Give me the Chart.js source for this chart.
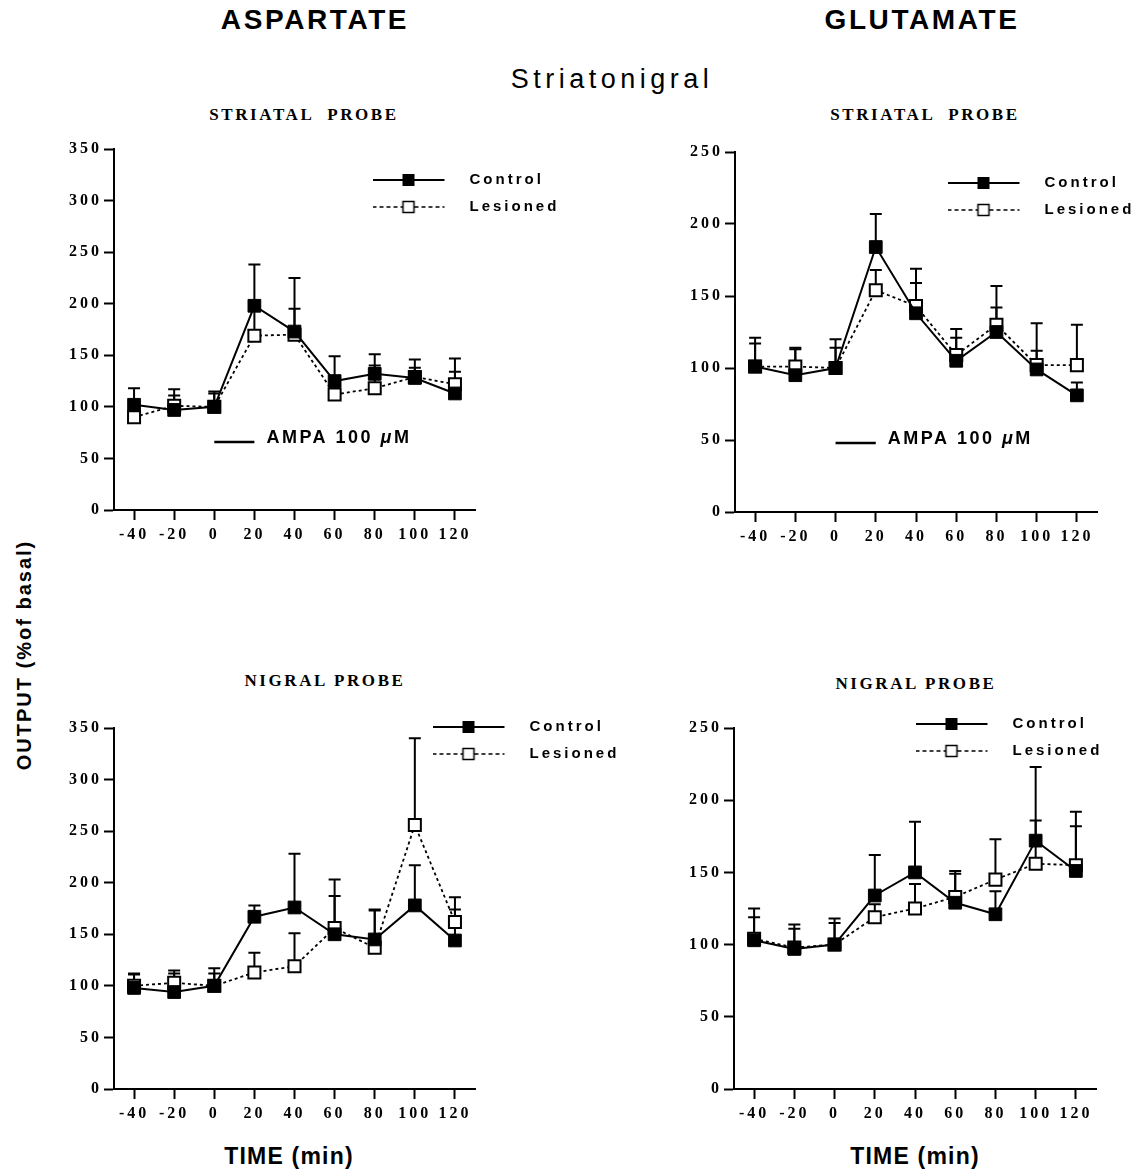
<!DOCTYPE html>
<html>
<head>
<meta charset="utf-8">
<script src="https://cdn.jsdelivr.net/npm/chart.js@4.4.1/dist/chart.umd.min.js"></script>
<style>
  body { margin: 0; background: #fff; }
  #page { position: relative; width: 1138px; height: 1171px; overflow: hidden; background: #fff; }
  canvas { position: absolute; }
  .t { position: absolute; white-space: pre; line-height: 1; color: #000; transform: translateX(-50%); }
  .sans { font-family: 'Liberation Sans', Arial, sans-serif; font-weight: bold; }
  .serif { font-family: 'Liberation Serif', 'Times New Roman', serif; font-weight: bold; font-size: 17px; letter-spacing: 2.6px; }
</style>
</head>
<body>
<div id="page">
  <div class="t sans" style="left:315px;top:6px;font-size:28px;letter-spacing:2.6px">ASPARTATE</div>
  <div class="t sans" style="left:922px;top:6px;font-size:28px;letter-spacing:2.6px">GLUTAMATE</div>
  <div class="t sans" style="left:612px;top:66px;font-size:27px;font-weight:normal;letter-spacing:4.5px">Striatonigral</div>
  <div class="t serif" style="left:304px;top:106px">STRIATAL  PROBE</div>
  <div class="t serif" style="left:925px;top:106px">STRIATAL  PROBE</div>
  <div class="t serif" style="left:325px;top:672px">NIGRAL PROBE</div>
  <div class="t serif" style="left:916px;top:675px">NIGRAL PROBE</div>
  <div class="t sans" style="left:24px;top:655px;font-size:20px;letter-spacing:2px;transform:translate(-50%,-50%) rotate(-90deg)">OUTPUT (%of basal)</div>
  <div class="t sans" style="left:289px;top:1145px;font-size:23px;letter-spacing:1.2px">TIME (min)</div>
  <div class="t sans" style="left:915px;top:1145px;font-size:23px;letter-spacing:1.2px">TIME (min)</div>

  <canvas id="aspStr" width="611" height="413" style="left:54px;top:137px"></canvas>
  <canvas id="gluStr" width="463" height="412" style="left:675px;top:140px"></canvas>
  <canvas id="aspNig" width="611" height="413" style="left:54px;top:716px"></canvas>
  <canvas id="gluNig" width="463" height="413" style="left:674px;top:716px"></canvas>
</div>

<script>
const times = [-40, -20, 0, 20, 40, 60, 80, 100, 120]

// aspartate, striatal probe
const aspStrControl = [102, 97, 100, 198, 173, 125, 132, 128, 113]
const aspStrControlSem = [16, 20, 15, 40, 52, 24, 19, 18, 34]
const aspStrLesioned = [90, 101, 100, 169, 170, 112, 118, 129, 122]
const aspStrLesionedSem = [8, 10, 13, 26, 25, 14, 22, 9, 12]

// glutamate, striatal probe
const gluStrControl = [101, 95, 100, 184, 138, 105, 125, 99, 81]
const gluStrControlSem = [20, 19, 20, 23, 31, 22, 32, 13, 9]
const gluStrLesioned = [101, 101, 100, 154, 143, 109, 130, 102, 102]
const gluStrLesionedSem = [16, 12, 14, 14, 16, 12, 12, 29, 28]

// aspartate, nigral probe
const aspNigControl = [98, 94, 100, 167, 176, 150, 145, 178, 144]
const aspNigControlSem = [14, 18, 17, 11, 52, 37, 28, 39, 30]
const aspNigLesioned = [100, 103, 100, 113, 119, 156, 137, 256, 162]
const aspNigLesionedSem = [11, 12, 12, 19, 32, 47, 37, 84, 24]

// glutamate, nigral probe
const gluNigControl = [103, 97, 100, 134, 150, 129, 121, 172, 151]
const gluNigControlSem = [22, 17, 18, 28, 35, 22, 16, 51, 41]
const gluNigLesioned = [104, 98, 100, 119, 125, 133, 145, 156, 155]
const gluNigLesionedSem = [15, 13, 15, 9, 17, 16, 28, 30, 27]

// AMPA application bar (min) and the level it is drawn at
const ampaTimes = [0, 20]
const ampaLevelAsp = 66
const ampaLevelGlu = 48

function makeIcon(dashed) {
  const c = document.createElement('canvas')
  c.width = 90
  c.height = 16
  const g = c.getContext('2d')
  g.strokeStyle = '#000'
  g.lineWidth = dashed ? 1.5 : 2
  if (dashed) g.setLineDash([4, 3])
  g.beginPath()
  g.moveTo(0, 8)
  g.lineTo(72, 8)
  g.stroke()
  g.setLineDash([])
  if (dashed) {
    g.fillStyle = '#fff'
    g.fillRect(30.5, 2.5, 11, 11)
    g.lineWidth = 1.5
    g.strokeRect(30.5, 2.5, 11, 11)
  } else {
    g.fillStyle = '#000'
    g.fillRect(30, 2, 12, 12)
  }
  return c
}
const legendIcons = { Control: makeIcon(false), Lesioned: makeIcon(true) }

// wide spacing of the printed figure
const spacing = {
  id: 'spacing',
  beforeUpdate(chart) { chart.ctx.letterSpacing = '3px' },
  beforeDraw(chart) { chart.ctx.letterSpacing = '3px' }
}

// put the legend where the figure has it
const legendMover = {
  id: 'legendMover',
  afterLayout(chart, args, opts) {
    const lg = chart.legend
    if (!lg || !opts.at) return
    const pad = 12
    lg.left = opts.at[0] - pad
    lg.top = opts.at[1] - 7.5 - pad
    lg.right = lg.left + 320
    lg.bottom = lg.top + 120
  }
}

const errorBars = {
  id: 'errorBars',
  beforeDatasetsDraw(chart) {
    const ctx = chart.ctx
    const y = chart.scales.y
    ctx.save()
    ctx.strokeStyle = '#000'
    ctx.lineWidth = 2
    chart.data.datasets.forEach((ds, i) => {
      if (!ds.sem) return
      chart.getDatasetMeta(i).data.forEach((pt, j) => {
        const top = y.getPixelForValue(ds.data[j] + ds.sem[j])
        ctx.beginPath()
        ctx.moveTo(pt.x, pt.y)
        ctx.lineTo(pt.x, top)
        ctx.moveTo(pt.x - 6, top)
        ctx.lineTo(pt.x + 6, top)
        ctx.stroke()
      })
    })
    ctx.restore()
  }
}

const ampaLabel = {
  id: 'ampaLabel',
  afterDatasetsDraw(chart, args, opts) {
    if (opts.level == null) return
    const ctx = chart.ctx
    let px = chart.scales.x.getPixelForValue(ampaTimes[1]) + 12
    const py = chart.scales.y.getPixelForValue(opts.level) - 4
    ctx.save()
    ctx.letterSpacing = '2.5px'
    ctx.fillStyle = '#000'
    ctx.textBaseline = 'middle'
    const parts = [['AMPA 100 ', 'bold'], ['\u03bc', 'italic bold'], ['M', 'bold']]
    for (const [s, w] of parts) {
      ctx.font = w + ' 18px "Liberation Sans", Arial, sans-serif'
      ctx.fillText(s, px, py)
      px += ctx.measureText(s).width
    }
    ctx.restore()
  }
}

const tickFont = { family: "'Liberation Serif', 'Times New Roman', serif", weight: 'bold', size: 16 }
const axisGrid = { display: true, drawOnChartArea: false, drawTicks: true, tickLength: 10, tickWidth: 2, tickColor: '#000' }
const axisBorder = { display: true, color: '#000', width: 2 }

function renderPanel(id, control, controlSem, lesioned, lesionedSem, yMax, rightPad, legendAt, ampaLevel) {
  const datasets = [
    {
      label: 'Control',
      data: control,
      sem: controlSem,
      borderColor: '#000',
      borderWidth: 2,
      pointStyle: 'rect',
      pointRadius: 9,
      pointBackgroundColor: '#000',
      pointBorderColor: '#000',
      pointBorderWidth: 1
    },
    {
      label: 'Lesioned',
      data: lesioned,
      sem: lesionedSem,
      borderColor: '#000',
      borderWidth: 1.8,
      borderDash: [3, 3],
      pointStyle: 'rect',
      pointRadius: 8.5,
      pointBackgroundColor: '#fff',
      pointBorderColor: '#000',
      pointBorderWidth: 2
    }
  ]
  if (ampaLevel != null) {
    datasets.push({
      label: 'AMPA',
      data: ampaTimes.map(t => ({ x: t, y: ampaLevel })),
      borderColor: '#000',
      borderWidth: 2.5,
      pointRadius: 0
    })
  }

  return new Chart(document.getElementById(id), {
    type: 'line',
    data: { labels: times, datasets: datasets },
    options: {
      responsive: false,
      animation: false,
      devicePixelRatio: 1,
      events: [],
      layout: { padding: { left: 0, top: 12, right: rightPad, bottom: 0 } },
      scales: {
        x: {
          type: 'linear',
          min: -50,
          max: 130,
          afterBuildTicks: s => { s.ticks = times.map(v => ({ value: v })) },
          afterFit: s => { s.height = 40 },
          grid: axisGrid,
          border: axisBorder,
          ticks: { font: tickFont, color: '#000', padding: 5, maxRotation: 0, autoSkip: false }
        },
        y: {
          min: 0,
          max: yMax,
          afterFit: s => { s.width = 60 },
          grid: axisGrid,
          border: axisBorder,
          ticks: { stepSize: 50, font: tickFont, color: '#000', padding: 2 }
        }
      },
      plugins: {
        tooltip: { enabled: false },
        legend: {
          position: 'chartArea',
          align: 'start',
          labels: {
            usePointStyle: true,
            pointStyleWidth: 89,
            padding: 12,
            color: '#000',
            font: { family: "'Liberation Sans', Arial, sans-serif", weight: 'bold', size: 15 },
            generateLabels: chart => chart.data.datasets
              .map((ds, i) => ({ text: ds.label, pointStyle: legendIcons[ds.label], datasetIndex: i, fontColor: '#000', lineWidth: 0, hidden: false }))
              .filter(item => item.pointStyle)
          }
        },
        legendMover: { at: legendAt },
        ampaLabel: { level: ampaLevel }
      }
    },
    plugins: [spacing, legendMover, errorBars, ampaLabel]
  })
}

renderPanel('aspStr', aspStrControl, aspStrControlSem, aspStrLesioned, aspStrLesionedSem, 350, 190, [319, 43], ampaLevelAsp)
renderPanel('gluStr', gluStrControl, gluStrControlSem, gluStrLesioned, gluStrLesionedSem, 250, 41, [273, 43], ampaLevelGlu)
renderPanel('aspNig', aspNigControl, aspNigControlSem, aspNigLesioned, aspNigLesionedSem, 350, 190, [379, 11], null)
renderPanel('gluNig', gluNigControl, gluNigControlSem, gluNigLesioned, gluNigLesionedSem, 250, 41, [242, 8], null)
</script>
</body>
</html>
